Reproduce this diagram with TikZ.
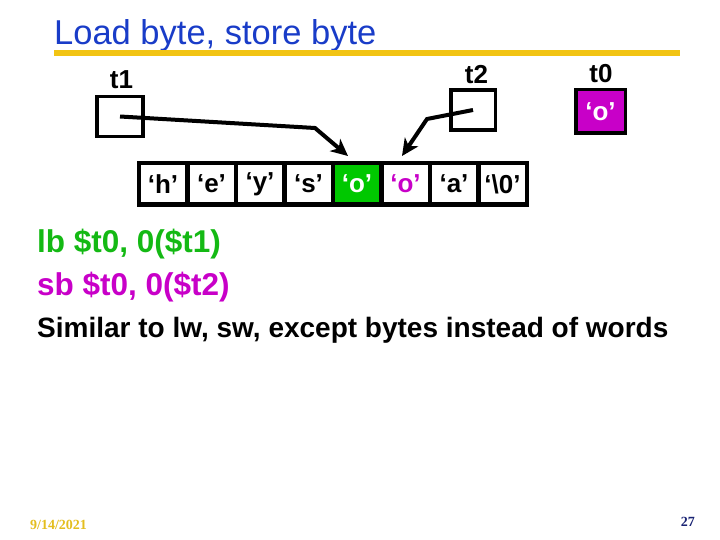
\documentclass[tikz,border=0pt]{standalone}
\usepackage{fontspec}
\setmainfont{Liberation Sans}
\newfontfamily\datefont{Liberation Serif}
\usepackage{tikz}
\usetikzlibrary{arrows.meta,positioning}
\definecolor{titleblue}{RGB}{25,60,200}
\definecolor{ruleyellow}{RGB}{242,196,20}
\definecolor{cellgreen}{RGB}{0,200,0}
\definecolor{lbgreen}{RGB}{20,185,20}
\definecolor{regmagenta}{RGB}{200,0,200}
\definecolor{datecolor}{RGB}{228,190,30}
\definecolor{pagenavy}{RGB}{25,35,115}

\begin{document}
\begin{tikzpicture}[x=1pt, y=-1pt,
        regbox/.style={draw, line width=3.5pt, inner sep=0pt, outer sep=0pt, minimum width=46pt, minimum height=40pt},
        reglabel/.style={anchor=base, inner sep=0pt, font=\bfseries\fontsize{26}{26}\selectfont},
        cellbox/.style={draw, fill=white, line width=4.5pt, inner sep=0pt, outer sep=0pt, minimum width=48.5pt, minimum height=41.5pt, font=\bfseries\fontsize{26}{26}\selectfont},
        ptr/.style={line width=4pt, -{Stealth[length=17pt, width=16pt, inset=5pt]}},
        codeline/.style={anchor=base west, inner sep=0pt, font=\bfseries\fontsize{31.5}{31.5}\selectfont}]
        \useasboundingbox (0,0) rectangle (720,540);

        \coordinate (xTitle) at (54,45);
        \coordinate (xRuleL) at (54,53);
        \coordinate (xRuleR) at (680,53);
        \coordinate (xt1) at (120,116.5);
        \coordinate (xt2) at (473,110);
        \coordinate (xt0) at (600.5,111.5);
        \coordinate (xh) at (163,184);
        \coordinate (bend1) at (315,128);
        \coordinate (tip1) at (348,156);
        \coordinate (bend2) at (427,119);
        \coordinate (tip2) at (402,156);

        \node[anchor=base west, inner sep=0pt, text=titleblue, font=\fontsize{34.5}{34.5}\selectfont] (title) at (xTitle) {Load byte, store byte};
        \draw[ruleyellow, line width=6pt] (xRuleL) -- (xRuleR);

        \node[regbox] (t1box) at (xt1) {};
        \node[regbox, minimum width=44.5pt] (t2box) at (xt2) {};
        \node[regbox, fill=regmagenta, minimum width=49.5pt, minimum height=43.5pt, text=white, font=\bfseries\fontsize{26}{26}\selectfont] (t0box) at (xt0) {‘o’};
        \node[reglabel] (t1name) at (121.5,89) {t1};
        \node[reglabel] (t2name) at (476.5,84) {t2};
        \node[reglabel] (t0name) at (601,83) {t0};

        \node[cellbox] (cellh) at (xh) {‘h’};
        \node[cellbox, right=0pt of cellh] (celle) {‘e’};
        \node[cellbox, right=0pt of celle] (celly) {‘y’};
        \node[cellbox, right=0pt of celly] (cells) {‘s’};
        \node[cellbox, right=0pt of cells, fill=cellgreen, text=white] (cello) {‘o’};
        \node[cellbox, right=0pt of cello, text=regmagenta] (cellob) {‘o’};
        \node[cellbox, right=0pt of cellob] (cella) {‘a’};
        \node[cellbox, right=0pt of cella] (cellnul) {‘\textbackslash0’};

        \draw[ptr] (t1box.center) -- (bend1) -- (tip1);
        \draw[ptr] (t2box.center) -- (bend2) -- (tip2);

        \node[codeline, text=lbgreen] (lbline) at (37,252) {lb \$t0, 0(\$t1)};
        \node[codeline, text=regmagenta] (sbline) at (37,295) {sb \$t0, 0(\$t2)};
        \node[codeline, font=\bfseries\fontsize{28}{28}\selectfont] (simline) at (37,337) {Similar to lw, sw, except bytes instead of words};

        \node[anchor=base west, inner sep=0pt, text=datecolor, font=\datefont\bfseries\fontsize{14}{14}\selectfont] (date) at (30,529) {9/14/2021};
        \node[anchor=base east, inner sep=0pt, text=pagenavy, font=\datefont\bfseries\fontsize{14}{14}\selectfont] (pagenum) at (695,526) {27};
    \end{tikzpicture}
\end{document}
